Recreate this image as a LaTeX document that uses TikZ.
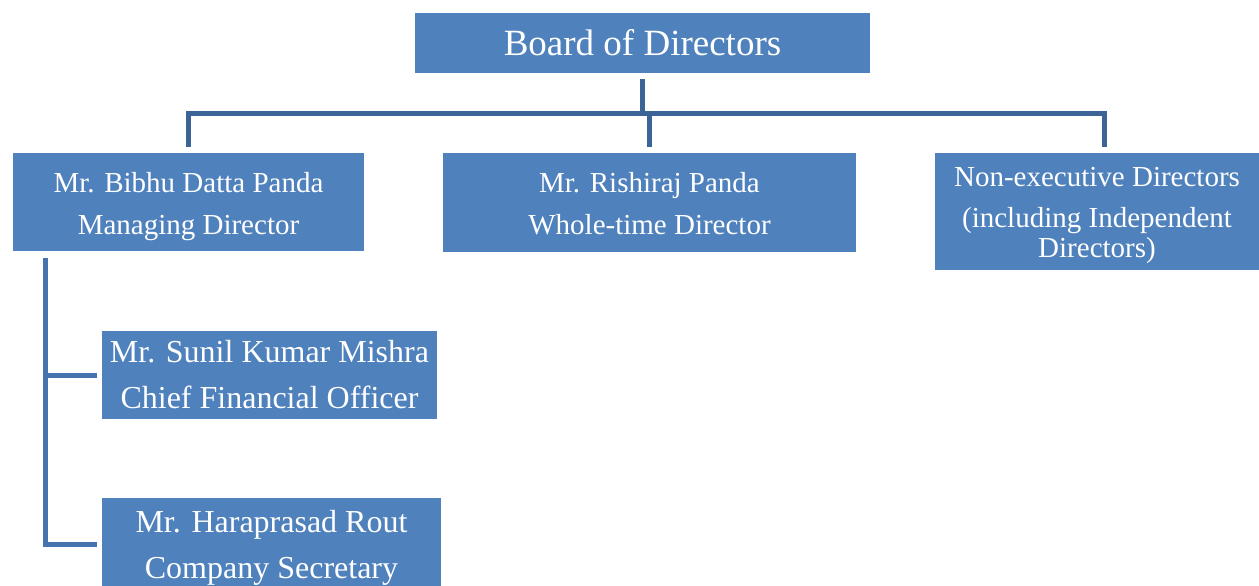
\documentclass[tikz,border=0pt]{standalone}
\usepackage{fontspec}
\setmainfont{Liberation Serif}
\usepackage{tikz}
\usetikzlibrary{positioning}
\definecolor{boxblue}{RGB}{79,129,189}
\definecolor{linkdark}{RGB}{60,100,150}
\definecolor{linkblue}{RGB}{70,115,175}
\tikzset{
  orgbox/.style={rectangle, fill=boxblue, text=white, align=center,
    inner sep=0pt},
  topbox/.style={orgbox, minimum width=341.25pt, minimum height=45pt,
    font=\fontsize{27.75}{33}\selectfont},
  dirbox/.style={orgbox, font=\fontsize{21.75}{31.5}\selectfont,
    text depth=0pt},
  staffbox/.style={orgbox, font=\fontsize{24}{34.5}\selectfont},
  link/.style={line width=3.75pt, color=linkdark},
  sublink/.style={line width=3.75pt, color=linkblue}
}

\begin{document}
\begin{tikzpicture}[x=0.75pt, y=-0.75pt]
  \useasboundingbox (0,0) rectangle (1259,585);
  % board
  \node[topbox] (board) at (642.5,43) {Board of Directors};
  % directors
  \node[dirbox, minimum width=263.25pt, minimum height=73.5pt, text height=48pt]
    (md) at (188.5,202) {Mr. Bibhu Datta Panda\\Managing Director};
  \node[dirbox, minimum width=309.75pt, minimum height=74.25pt, text height=47.25pt]
    (wtd) at (649.5,202.5) {Mr. Rishiraj Panda\\Whole-time Director};
  \node[dirbox, minimum width=243pt, minimum height=87.75pt, text height=68.25pt,
    font=\fontsize{21.75}{22.5}\selectfont] (ned) at (1097,211.5)
    {Non-executive Directors\\[8.25pt](including Independent\\Directors)};
  % officers under the MD
  \node[staffbox, minimum width=251.25pt, minimum height=66pt] (cfo) at (269.5,375)
    {Mr. Sunil Kumar Mishra\\Chief Financial Officer};
  \node[staffbox, minimum width=254.25pt, minimum height=75pt,
    text depth=0pt, text height=45.75pt] (cs) at (271.5,548)
    {Mr. Haraprasad Rout\\Company Secretary};
  % board to directors
  \coordinate (bus) at (643,113);
  \draw[link, shorten <=4.5pt] (board.south) -- (board.south |- bus);
  \draw[link, shorten <=4.5pt, shorten >=4.5pt]
    (md.north) |- (bus) -| ([xshift=5.25pt]ned.north);
  \draw[link, shorten <=4.5pt] (wtd.north) -- (wtd.north |- bus);
  % MD to officers
  \coordinate (trunk) at ([xshift=24.75pt, yshift=-5.25pt]md.south west);
  \draw[sublink, shorten >=3.75pt] (trunk) |- ([yshift=2.5pt]cs.west);
  \draw[sublink, shorten >=3.75pt] (trunk |- cfo.west) -- (cfo.west);
\end{tikzpicture}
\end{document}
